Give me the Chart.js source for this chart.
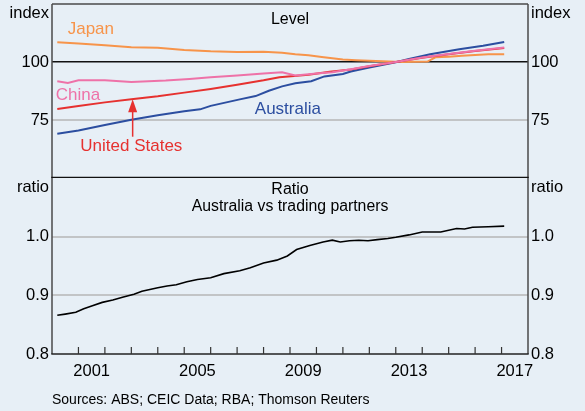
<!DOCTYPE html>
<html>
<head>
<meta charset="utf-8">
<script src="https://cdn.jsdelivr.net/npm/chart.js@4.4.1/dist/chart.umd.min.js"></script>
<style>
  body { margin: 0; background: #e7eff6; }
  #wrap { position: relative; width: 585px; height: 411px; background: #e7eff6; }
  canvas { position: absolute; left: 0; }
  #levelCanvas { top: 0; }
  #ratioCanvas { top: 178px; }
</style>
</head>
<body>
<div id="wrap">
  <canvas id="levelCanvas" width="585" height="178"></canvas>
  <canvas id="ratioCanvas" width="585" height="233"></canvas>
</div>
<script>
// Data (index, base ~2013 = 100)
const japanYears = [2000.2, 2001, 2002, 2003, 2004, 2005, 2006, 2007, 2008, 2008.7, 2009.2, 2009.7, 2010.2, 2010.6, 2011, 2011.5, 2012, 2012.5, 2013.2, 2014.2, 2014.5, 2015, 2015.5, 2016, 2016.5, 2017.1];
const japanIndex = [108.5, 108.0, 107.2, 106.4, 106.1, 105.2, 104.6, 104.3, 104.4, 104.0, 103.3, 102.9, 102.2, 101.6, 101.1, 100.8, 100.5, 100.3, 100.0, 100.2, 102.0, 102.3, 102.7, 103.0, 103.3, 103.3];

const chinaYears = [2000.2, 2000.6, 2001, 2002, 2003, 2004.3, 2005.2, 2006, 2007, 2008, 2008.7, 2009.2, 2010, 2010.6, 2011.3, 2012, 2013, 2014, 2015, 2016, 2017.1];
const chinaIndex = [91.7, 91.0, 92.1, 92.1, 91.4, 92.0, 92.7, 93.4, 94.2, 95.0, 95.6, 94.2, 95.0, 95.6, 96.9, 98.3, 100.0, 101.9, 103.4, 104.8, 106.3];

const usYears = [2000.2, 2001, 2002, 2003, 2004, 2005, 2006, 2007, 2008, 2008.6, 2009.7, 2010.5, 2011.3, 2012, 2013, 2014, 2015, 2016, 2017.1];
const usIndex = [79.7, 81.0, 82.6, 83.9, 85.2, 86.8, 88.4, 90.2, 92.1, 93.4, 94.5, 95.8, 96.8, 98.2, 100.0, 101.8, 103.3, 104.7, 106.0];

const ausYears = [2000.2, 2001, 2002, 2003, 2004, 2005, 2005.6, 2006, 2007.1, 2007.7, 2008.2, 2008.7, 2009.2, 2009.8, 2010.3, 2011, 2011.3, 2012, 2013, 2013.5, 2014.3, 2015.4, 2016.3, 2017.1];
const ausIndex = [69.1, 70.5, 72.8, 75.1, 77.0, 78.8, 79.6, 81.1, 83.9, 85.3, 87.6, 89.5, 90.8, 91.7, 93.8, 94.8, 95.9, 97.6, 99.9, 101.3, 103.3, 105.5, 107.0, 108.6];

// Ratio: Australia vs trading partners
const ratioYears = [2000.2, 2000.5, 2000.9, 2001.2, 2001.5, 2001.9, 2002.3, 2002.7, 2003.1, 2003.4, 2004, 2004.35, 2004.7, 2005.1, 2005.5, 2006, 2006.5, 2007.1, 2007.5, 2008, 2008.5, 2008.9, 2009.25, 2009.75, 2010.25, 2010.6, 2010.9, 2011.25, 2011.6, 2011.95, 2012.3, 2012.7, 2013, 2013.5, 2014, 2014.7, 2015.3, 2015.6, 2015.9, 2016.5, 2017.1];
const ratioValues = [0.866, 0.868, 0.871, 0.877, 0.882, 0.888, 0.892, 0.897, 0.902, 0.907, 0.913, 0.916, 0.918, 0.923, 0.927, 0.930, 0.937, 0.942, 0.947, 0.955, 0.960, 0.967, 0.978, 0.985, 0.991, 0.994, 0.991, 0.993, 0.994, 0.993, 0.995, 0.997, 0.999, 1.003, 1.008, 1.008, 1.014, 1.013, 1.016, 1.017, 1.018];

// Axes
const levelTicks = [50, 75, 100, 125];
const levelLabels = [75, 100];
const ratioTicks = [0.8, 0.9, 1.0, 1.1];
const ratioLabels = [0.8, 0.9, 1.0];
const yearLabels = [2001, 2005, 2009, 2013, 2017];
const yearMarks = [2001, 2002, 2003, 2004, 2005, 2006, 2007, 2008, 2009, 2010, 2011, 2012, 2013, 2014, 2015, 2016, 2017];

// Colours
const JAPAN = "#f7944a";
const CHINA = "#ee72a8";
const US = "#e6312f";
const AUS = "#2c4ea0";
const FONT = "Arial, 'Liberation Sans', sans-serif";

Chart.defaults.font.family = FONT;
Chart.defaults.color = "#000";

// Series labels, placed in data units
const levelNotes = [
  { text: "Japan", x: 2001.47, y: 114, color: JAPAN },
  { text: "China", x: 2000.98, y: 85.6, color: CHINA },
  { text: "United States", x: 2003.0, y: 63.6, color: US },
  { text: "Australia", x: 2008.92, y: 79.7, color: AUS },
];

function points(xs, ys) {
  return xs.map((x, i) => ({ x: x, y: ys[i] }));
}

function line(label, xs, ys, color, width) {
  return {
    label: label,
    data: points(xs, ys),
    borderColor: color,
    borderWidth: width,
    pointRadius: 0,
    tension: 0,
    fill: false,
  };
}

// Fix axis width and drop the label padding Chart.js adds at the ends
function fixWidth(w) {
  return (s) => {
    s.width = w;
    s.paddingTop = 0;
    s.paddingBottom = 0;
  };
}

function setTicks(values) {
  return (s) => {
    s.ticks = values.map((v) => ({ value: v }));
  };
}

function near(a, b) {
  return Math.abs(a - b) < 1e-6;
}

function yAxis(pos, min, max, ticks, labels, fmt, gridColor, gridWidth) {
  return {
    position: pos,
    min: min,
    max: max,
    afterBuildTicks: setTicks(ticks),
    afterFit: fixWidth(pos === "left" ? 52 : 57),
    ticks: {
      padding: 3,
      autoSkip: false,
      font: { size: 16.5 },
      callback: (v) => (labels.some((l) => near(l, v)) ? fmt(v) : null),
    },
    grid: {
      display: pos === "left",
      drawTicks: false,
      color: (ctx) => gridColor(ctx.tick.value),
      lineWidth: (ctx) => gridWidth(ctx.tick.value),
    },
    border: { display: false },
  };
}

function drawText(ctx, text, x, y, align, size, color) {
  ctx.save();
  ctx.font = size + "px " + FONT;
  ctx.fillStyle = color;
  ctx.textAlign = align;
  ctx.textBaseline = "middle";
  ctx.fillText(text, x, y);
  ctx.restore();
}

function hline(ctx, x1, x2, y, color, w) {
  ctx.save();
  ctx.strokeStyle = color;
  ctx.lineWidth = w;
  ctx.beginPath();
  ctx.moveTo(x1, y);
  ctx.lineTo(x2, y);
  ctx.stroke();
  ctx.restore();
}

function vline(ctx, x, y1, y2, color, w) {
  ctx.save();
  ctx.strokeStyle = color;
  ctx.lineWidth = w;
  ctx.beginPath();
  ctx.moveTo(x, y1);
  ctx.lineTo(x, y2);
  ctx.stroke();
  ctx.restore();
}

const FRAME = "#4a4a4a";

// Top panel decorations
const levelDeco = {
  id: "levelDeco",
  afterDraw(chart) {
    const { ctx, chartArea: a, scales } = chart;
    vline(ctx, a.left, a.top, a.bottom, FRAME, 1.5);
    vline(ctx, a.right, a.top, a.bottom, FRAME, 1.5);
    hline(ctx, a.left, a.right, a.top, FRAME, 1.5);
    hline(ctx, a.left - 0.7, a.right + 0.7, a.bottom - 0.6, "#111", 1.3);

    drawText(ctx, "index", a.left - 3, 13, "right", 16.5, "#000");
    drawText(ctx, "index", a.right + 3, 13, "left", 16.5, "#000");
    drawText(ctx, "Level", (a.left + a.right) / 2, 20, "center", 16, "#000");

    levelNotes.forEach((n) => {
      drawText(ctx, n.text, scales.x.getPixelForValue(n.x), scales.y.getPixelForValue(n.y), "center", 17, n.color);
    });

    // Arrow from "United States" up to its line
    const ax = scales.x.getPixelForValue(2003.05);
    const tip = scales.y.getPixelForValue(83.9);
    const base = scales.y.getPixelForValue(67.8);
    vline(ctx, ax, base, tip + 10, US, 1.5);
    ctx.save();
    ctx.fillStyle = US;
    ctx.beginPath();
    ctx.moveTo(ax, tip);
    ctx.lineTo(ax - 4.5, tip + 13);
    ctx.lineTo(ax + 4.5, tip + 13);
    ctx.closePath();
    ctx.fill();
    ctx.restore();
  },
};

// Bottom panel decorations
const ratioDeco = {
  id: "ratioDeco",
  afterDraw(chart) {
    const { ctx, chartArea: a, scales } = chart;
    vline(ctx, a.left, a.top, a.bottom, FRAME, 1.5);
    vline(ctx, a.right, a.top, a.bottom, FRAME, 1.5);
    hline(ctx, a.left - 0.7, a.right + 0.7, a.bottom, "#222", 1.5);

    yearMarks.forEach((yr) => {
      const x = scales.x.getPixelForValue(yr);
      vline(ctx, x, a.bottom, a.bottom - 7, "#333", 1.2);
    });

    drawText(ctx, "ratio", a.left - 3, 9, "right", 16.5, "#000");
    drawText(ctx, "ratio", a.right + 3, 9, "left", 16.5, "#000");
    drawText(ctx, "Ratio", (a.left + a.right) / 2, 12, "center", 16, "#000");
    drawText(ctx, "Australia vs trading partners", (a.left + a.right) / 2, 29, "center", 15.8, "#000");
    drawText(ctx, "Sources: ABS; CEIC Data; RBA; Thomson Reuters", a.left, 222, "left", 14, "#000");
  },
};

const common = {
  responsive: false,
  animation: false,
  devicePixelRatio: 1,
  events: [],
  plugins: { legend: { display: false }, tooltip: { enabled: false } },
};

const levelGridColor = (v) => (near(v, 100) ? "#111" : near(v, 75) ? "#c2c4c6" : "rgba(0,0,0,0)");
const levelGridWidth = (v) => (near(v, 100) ? 1.5 : 2);

new Chart(document.querySelector("#levelCanvas"), {
  type: "line",
  data: {
    datasets: [
      line("China", chinaYears, chinaIndex, CHINA, 2),
      line("United States", usYears, usIndex, US, 2),
      line("Australia", ausYears, ausIndex, AUS, 2),
      line("Japan", japanYears, japanIndex, JAPAN, 2),
    ],
  },
  options: {
    ...common,
    layout: { padding: { top: 4, bottom: 0, left: 0, right: 0 } },
    scales: {
      x: { type: "linear", min: 2000, max: 2018, display: false },
      y: yAxis("left", 50, 125, levelTicks, levelLabels, (v) => String(v), levelGridColor, levelGridWidth),
      y2: yAxis("right", 50, 125, levelTicks, levelLabels, (v) => String(v), levelGridColor, levelGridWidth),
    },
  },
  plugins: [levelDeco],
});

const ratioGridColor = (v) => (near(v, 1.0) || near(v, 0.9) ? "#c2c4c6" : "rgba(0,0,0,0)");
const ratioGridWidth = () => 2;

new Chart(document.querySelector("#ratioCanvas"), {
  type: "line",
  data: {
    datasets: [line("Ratio", ratioYears, ratioValues, "#000", 1.6)],
  },
  options: {
    ...common,
    layout: { padding: { top: 0, bottom: 0, left: 0, right: 0 } },
    scales: {
      x: {
        type: "linear",
        min: 2000,
        max: 2018,
        afterBuildTicks: setTicks(yearLabels.map((y) => y + 0.5)),
        afterFit: (s) => {
          s.height = 57;
          s.paddingLeft = 0;
          s.paddingRight = 0;
        },
        ticks: {
          padding: 8,
          autoSkip: false,
          maxRotation: 0,
          font: { size: 16.5 },
          callback: (v) => String(Math.floor(v)),
        },
        grid: { display: false, drawTicks: false },
        border: { display: false },
      },
      y: yAxis("left", 0.8, 1.1, ratioTicks, ratioLabels, (v) => v.toFixed(1), ratioGridColor, ratioGridWidth),
      y2: yAxis("right", 0.8, 1.1, ratioTicks, ratioLabels, (v) => v.toFixed(1), ratioGridColor, ratioGridWidth),
    },
  },
  plugins: [ratioDeco],
});
</script>
</body>
</html>
